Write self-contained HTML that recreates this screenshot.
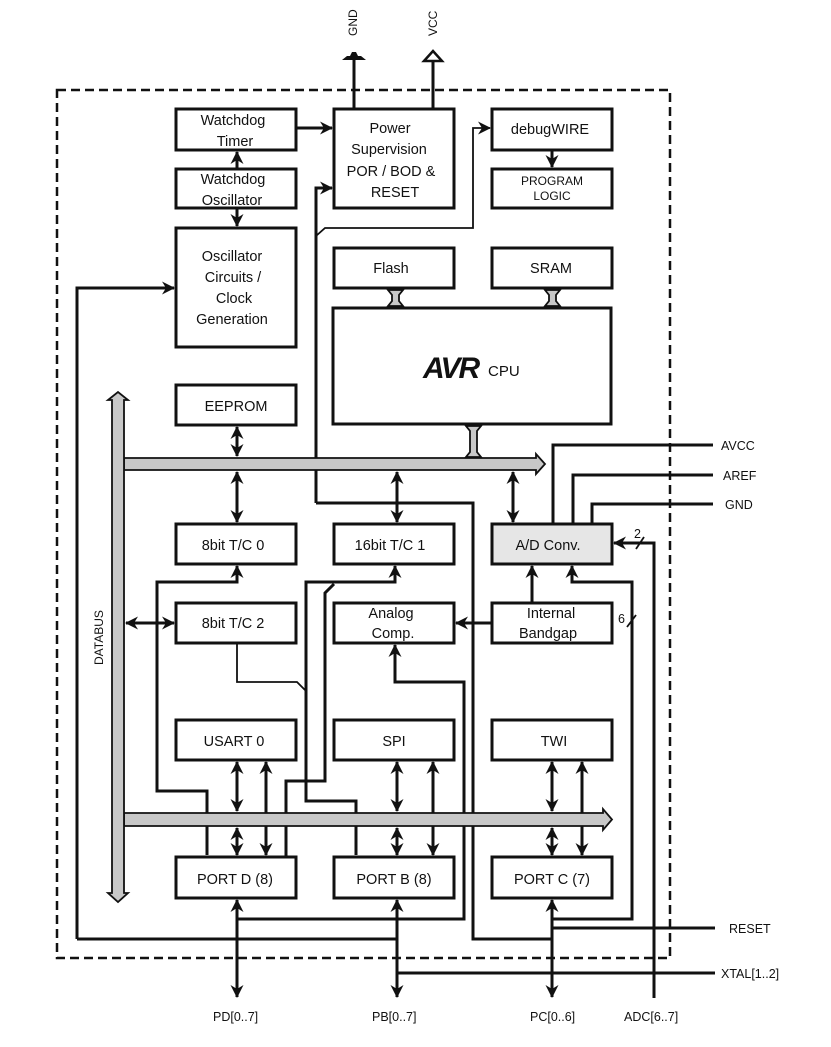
<!DOCTYPE html>
<html><head><meta charset="utf-8"><style>
html,body{margin:0;padding:0;background:#fff;}
svg{display:block;}
text{font-family:"Liberation Sans",Arial,sans-serif;fill:#111;}
</style></head><body>
<svg width="831" height="1047" viewBox="0 0 831 1047" xmlns="http://www.w3.org/2000/svg">
<defs>
<marker id="a" markerWidth="13" markerHeight="13" refX="12" refY="6.5" orient="auto" markerUnits="userSpaceOnUse">
<path d="M0,0 L13,6.5 L0,13 L4,6.5 Z" fill="#111"/></marker>
<marker id="s" markerWidth="13" markerHeight="13" refX="1" refY="6.5" orient="auto" markerUnits="userSpaceOnUse">
<path d="M13,0 L0,6.5 L13,13 L9,6.5 Z" fill="#111"/></marker>
</defs>

<rect x="57" y="90" width="613" height="868" fill="none" stroke="#111" stroke-width="2.5" stroke-dasharray="9,5"/>

<line x1="354" y1="58" x2="354" y2="109" stroke="#111" stroke-width="3"/>
<path d="M342,60 H366 L361,56 H358 L356,52 H352 L350,56 H347 Z" fill="#111"/>
<line x1="433" y1="61" x2="433" y2="109" stroke="#111" stroke-width="3"/>
<path d="M424,61 L433,51 L442,61 Z" fill="#fff" stroke="#111" stroke-width="2.5"/>
<text transform="translate(357,36) rotate(-90)" font-size="12">GND</text>
<text transform="translate(437,36) rotate(-90)" font-size="12">VCC</text>

<g fill="none" stroke="#111" stroke-width="3">
<line x1="296" y1="128" x2="332" y2="128" marker-end="url(#a)"/>
<line x1="237" y1="169" x2="237" y2="152" marker-end="url(#a)"/>
<line x1="237" y1="208" x2="237" y2="226" marker-end="url(#a)"/>
<polyline points="316,503 316,188 332,188" marker-end="url(#a)"/>
<polyline points="316,503 473,503 473,939 552,939"/>
<polyline points="77,939 77,288 174,288" marker-end="url(#a)"/>
<polyline points="77,939 398,939"/>
<polyline points="316,236 325,228 473,228 473,128 490,128" stroke-width="1.8" marker-end="url(#a)"/>
<line x1="552" y1="150" x2="552" y2="167" marker-end="url(#a)"/>

<line x1="237" y1="427" x2="237" y2="456" marker-start="url(#s)" marker-end="url(#a)"/>
<line x1="237" y1="472" x2="237" y2="522" marker-start="url(#s)" marker-end="url(#a)"/>
<line x1="397" y1="472" x2="397" y2="522" marker-start="url(#s)" marker-end="url(#a)"/>
<line x1="513" y1="472" x2="513" y2="522" marker-start="url(#s)" marker-end="url(#a)"/>
<line x1="126" y1="623" x2="174" y2="623" marker-start="url(#s)" marker-end="url(#a)"/>
<line x1="492" y1="623" x2="456" y2="623" marker-end="url(#a)"/>
<line x1="532" y1="603" x2="532" y2="566" marker-end="url(#a)"/>

<polyline points="553,524 553,445 713,445"/>
<polyline points="573,524 573,475 713,475"/>
<polyline points="592,524 592,504 713,504"/>
<polyline points="654,998 654,543 614,543" marker-end="url(#a)"/>
<polyline points="552,919 632,919 632,582 572,582 572,566" marker-end="url(#a)"/>

<polyline points="207,855 207,791 157,791 157,582 237,582 237,566" marker-end="url(#a)"/>
<polyline points="356,855 356,801 306,801 306,582 395,582 395,566" marker-end="url(#a)"/>
<polyline points="286,857 286,781 325,781 325,593 334,584"/>
<polyline points="237,643 237,682 297,682 306,691" stroke-width="1.8"/>
<polyline points="237,919 464,919 464,682 395,682 395,645" marker-end="url(#a)"/>

<line x1="237" y1="762" x2="237" y2="811" marker-start="url(#s)" marker-end="url(#a)"/>
<line x1="237" y1="828" x2="237" y2="855" marker-start="url(#s)" marker-end="url(#a)"/>
<line x1="266" y1="762" x2="266" y2="855" marker-start="url(#s)" marker-end="url(#a)"/>
<line x1="397" y1="762" x2="397" y2="811" marker-start="url(#s)" marker-end="url(#a)"/>
<line x1="397" y1="828" x2="397" y2="855" marker-start="url(#s)" marker-end="url(#a)"/>
<line x1="433" y1="762" x2="433" y2="855" marker-start="url(#s)" marker-end="url(#a)"/>
<line x1="552" y1="762" x2="552" y2="811" marker-start="url(#s)" marker-end="url(#a)"/>
<line x1="552" y1="828" x2="552" y2="855" marker-start="url(#s)" marker-end="url(#a)"/>
<line x1="582" y1="762" x2="582" y2="855" marker-start="url(#s)" marker-end="url(#a)"/>

<line x1="237" y1="900" x2="237" y2="997" marker-start="url(#s)" marker-end="url(#a)"/>
<line x1="397" y1="900" x2="397" y2="997" marker-start="url(#s)" marker-end="url(#a)"/>
<line x1="552" y1="900" x2="552" y2="997" marker-start="url(#s)" marker-end="url(#a)"/>
<line x1="552" y1="928" x2="715" y2="928"/>
<line x1="397" y1="973" x2="715" y2="973"/>
<line x1="636" y1="549" x2="644" y2="537" stroke-width="1.8"/>
<line x1="627" y1="627" x2="636" y2="615" stroke-width="1.8"/>
</g>

<g fill="#c8c8c8" stroke="#111" stroke-width="1.8">
<path d="M124,458 H536 V454 L545,464 L536,474 V470 H124 Z"/>
<path d="M124,813 H603 V809 L612,819.5 L603,830 V826 H124 Z"/>
<path d="M112,400 H108 L118,392 L128,400 H124 V893 H128 L118,902 L108,893 H112 Z"/>
<path d="M388,290 H403 L399,295 V301 L403,306 H388 L392,301 V295 Z"/>
<path d="M545,290 H560 L556,295 V301 L560,306 H545 L549,301 V295 Z"/>
<path d="M466,426 H481 L477,431 V452 L481,457 H466 L470,452 V431 Z"/>
</g>

<g stroke="#111" stroke-width="3" fill="#fff">
<rect x="176" y="109" width="120" height="41"/>
<rect x="176" y="169" width="120" height="39"/>
<rect x="176" y="228" width="120" height="119"/>
<rect x="334" y="109" width="120" height="99"/>
<rect x="492" y="109" width="120" height="41"/>
<rect x="492" y="169" width="120" height="39"/>
<rect x="334" y="248" width="120" height="40"/>
<rect x="492" y="248" width="120" height="40"/>
<rect x="333" y="308" width="278" height="116"/>
<rect x="176" y="385" width="120" height="40"/>
<rect x="176" y="524" width="120" height="40"/>
<rect x="334" y="524" width="120" height="40"/>
<rect x="492" y="524" width="120" height="40" fill="#e6e6e6"/>
<rect x="176" y="603" width="120" height="40"/>
<rect x="334" y="603" width="120" height="40"/>
<rect x="492" y="603" width="120" height="40"/>
<rect x="176" y="720" width="120" height="40"/>
<rect x="334" y="720" width="120" height="40"/>
<rect x="492" y="720" width="120" height="40"/>
<rect x="176" y="857" width="120" height="41"/>
<rect x="334" y="857" width="120" height="41"/>
<rect x="492" y="857" width="120" height="41"/>
</g>

<g font-size="14.5" text-anchor="middle">
<text x="233" y="125">Watchdog</text><text x="235" y="146">Timer</text>
<text x="233" y="184">Watchdog</text><text x="232" y="205">Oscillator</text>
<text x="232" y="261">Oscillator</text><text x="233" y="282">Circuits /</text><text x="234" y="303">Clock</text><text x="232" y="324">Generation</text>
<text x="390" y="133">Power</text><text x="389" y="154">Supervision</text><text x="391" y="176">POR / BOD &amp;</text><text x="395" y="197">RESET</text>
<text x="550" y="134">debugWIRE</text>
<text x="552" y="185" font-size="12">PROGRAM</text><text x="552" y="200" font-size="12">LOGIC</text>
<text x="391" y="273">Flash</text><text x="551" y="273">SRAM</text>
<text x="236" y="411">EEPROM</text>
<text x="233" y="550">8bit T/C 0</text><text x="390" y="550">16bit T/C 1</text><text x="548" y="550">A/D Conv.</text>
<text x="233" y="628">8bit T/C 2</text>
<text x="391" y="618">Analog</text><text x="393" y="638">Comp.</text>
<text x="551" y="618">Internal</text><text x="548" y="638">Bandgap</text>
<text x="234" y="746">USART 0</text><text x="394" y="746">SPI</text><text x="554" y="746">TWI</text>
<text x="235" y="884">PORT D (8)</text><text x="394" y="884">PORT B (8)</text><text x="552" y="884">PORT C (7)</text>
</g>
<text x="423" y="378" font-size="30" font-weight="bold" font-style="italic" letter-spacing="-2">AVR</text>
<text x="488" y="376" font-size="15">CPU</text>
<text transform="translate(103,665) rotate(-90)" font-size="12">DATABUS</text>
<g font-size="12.5">
<text x="721" y="450">AVCC</text><text x="723" y="480">AREF</text><text x="725" y="509">GND</text>
<text x="729" y="933">RESET</text><text x="721" y="978">XTAL[1..2]</text>
<text x="213" y="1021">PD[0..7]</text><text x="372" y="1021">PB[0..7]</text><text x="530" y="1021">PC[0..6]</text><text x="624" y="1021">ADC[6..7]</text>
<text x="634" y="538">2</text><text x="618" y="623">6</text>
</g>
</svg>
</body></html>
